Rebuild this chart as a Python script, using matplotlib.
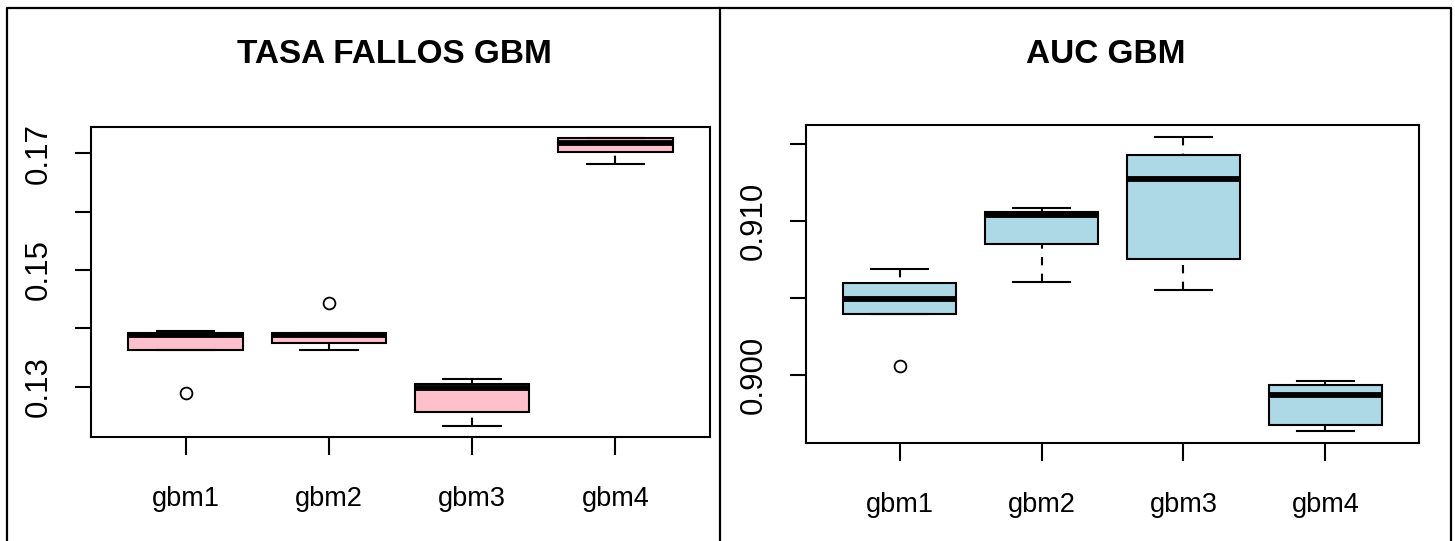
import matplotlib
matplotlib.use("Agg")
import matplotlib.pyplot as plt
from matplotlib import font_manager
from matplotlib.lines import Line2D

plt.rcParams["font.family"] = ["Liberation Sans", "DejaVu Sans"]

# Box statistics per model (read as five-number summaries plus outliers)
models = ["gbm1", "gbm2", "gbm3", "gbm4"]

# Error rate
tasa_q1 = [0.1363, 0.1375, 0.1257, 0.1702]
tasa_med = [0.1389, 0.1388, 0.1298, 0.1717]
tasa_q3 = [0.1392, 0.1392, 0.1305, 0.1725]
tasa_lo = [0.1363, 0.1363, 0.1234, 0.1682]
tasa_hi = [0.1396, 0.1392, 0.1314, 0.1725]
tasa_out = [[0.1290], [0.1444], [], []]

# AUC
auc_q1 = [0.9040, 0.90849, 0.90757, 0.8968]
auc_med = [0.90497, 0.91041, 0.91273, 0.89869]
auc_q3 = [0.90597, 0.91059, 0.91429, 0.8994]
auc_lo = [0.9040, 0.90605, 0.90551, 0.89637]
auc_hi = [0.90688, 0.91085, 0.91548, 0.89966]
auc_out = [[0.90059], [], [], []]

tasa_ticks = [0.13, 0.14, 0.15, 0.16, 0.17]
tasa_labels = ["0.13", "", "0.15", "", "0.17"]
auc_ticks = [0.900, 0.905, 0.910, 0.915]
auc_labels = ["0.900", "", "0.910", ""]

W, H = 1455, 541
fig = plt.figure(figsize=(W / 100, H / 100), dpi=100)

installed = {f.name for f in font_manager.fontManager.ttflist}
if "Liberation Sans Narrow" in installed:
    title_font, title_size = "Liberation Sans Narrow", 27
else:
    title_font, title_size = "Liberation Sans", 24


def px_axes(x0, y0, x1, y1):
    return fig.add_axes([x0 / W, 1 - y1 / H, (x1 - x0) / W, (y1 - y0) / H])


def draw_box(ax, q1, med, q3, lo, hi, out, color, ticks, labels):
    stats = []
    for i, name in enumerate(models):
        stats.append(dict(label=name, q1=q1[i], med=med[i], q3=q3[i],
                          whislo=lo[i], whishi=hi[i], fliers=out[i]))
    res = ax.bxp(stats, positions=[1, 2, 3, 4], widths=0.8, patch_artist=True,
                 boxprops=dict(facecolor=color, edgecolor="black", linewidth=1.5),
                 whiskerprops=dict(color="black", linewidth=1.5, linestyle=(0, (4, 4))),
                 capprops=dict(color="black", linewidth=1.5),
                 medianprops=dict(color="black", linewidth=4.2, solid_capstyle="butt"),
                 flierprops=dict(marker="o", markerfacecolor="none",
                                 markeredgecolor="black", markersize=8.5,
                                 markeredgewidth=1.3))
    # dash pattern starts at the whisker end, like R's segments()
    for wl in res["whiskers"]:
        x, y = wl.get_data()
        wl.set_data(x[::-1], y[::-1])

    vals = lo + q3 + hi + [v for o in out for v in o]
    vmin, vmax = min(vals), max(vals)
    pad = 0.04 * (vmax - vmin)
    ax.set_ylim(vmin - pad, vmax + pad)
    ax.set_xlim(0.34, 4.66)

    ax.set_xticks([1, 2, 3, 4])
    ax.set_xticklabels(models, fontsize=19.5)
    ax.set_yticks(ticks)
    ax.set_yticklabels(labels, fontsize=22.5, rotation=90, va="center")
    ax.tick_params(axis="y", length=11.5, width=1.5, pad=15)
    ax.tick_params(axis="x", length=13, width=1.5, pad=22)
    for s in ax.spines.values():
        s.set_linewidth(1.5)


ax1 = px_axes(91, 127, 710, 437)
draw_box(ax1, tasa_q1, tasa_med, tasa_q3, tasa_lo, tasa_hi, tasa_out,
         "pink", tasa_ticks, tasa_labels)

ax2 = px_axes(806, 125, 1419, 443)
draw_box(ax2, auc_q1, auc_med, auc_q3, auc_lo, auc_hi, auc_out,
         "lightblue", auc_ticks, auc_labels)

fig.text(394 / W, 1 - 62.7 / H, "TASA FALLOS GBM", ha="center", va="baseline",
         fontsize=title_size, fontweight="bold", family=title_font)
fig.text(1106 / W, 1 - 62.7 / H, "AUC GBM", ha="center", va="baseline",
         fontsize=title_size, fontweight="bold", family=title_font)

# panel frames
def frame_line(xs, ys):
    fig.add_artist(Line2D([x / W for x in xs], [1 - y / H for y in ys],
                          color="black", linewidth=1.6, transform=fig.transFigure))

frame_line([7, 7, 720, 720], [545, 8, 8, 545])
frame_line([720, 1451, 1451], [8, 8, 545])

fig.savefig("out.png", dpi=100)
